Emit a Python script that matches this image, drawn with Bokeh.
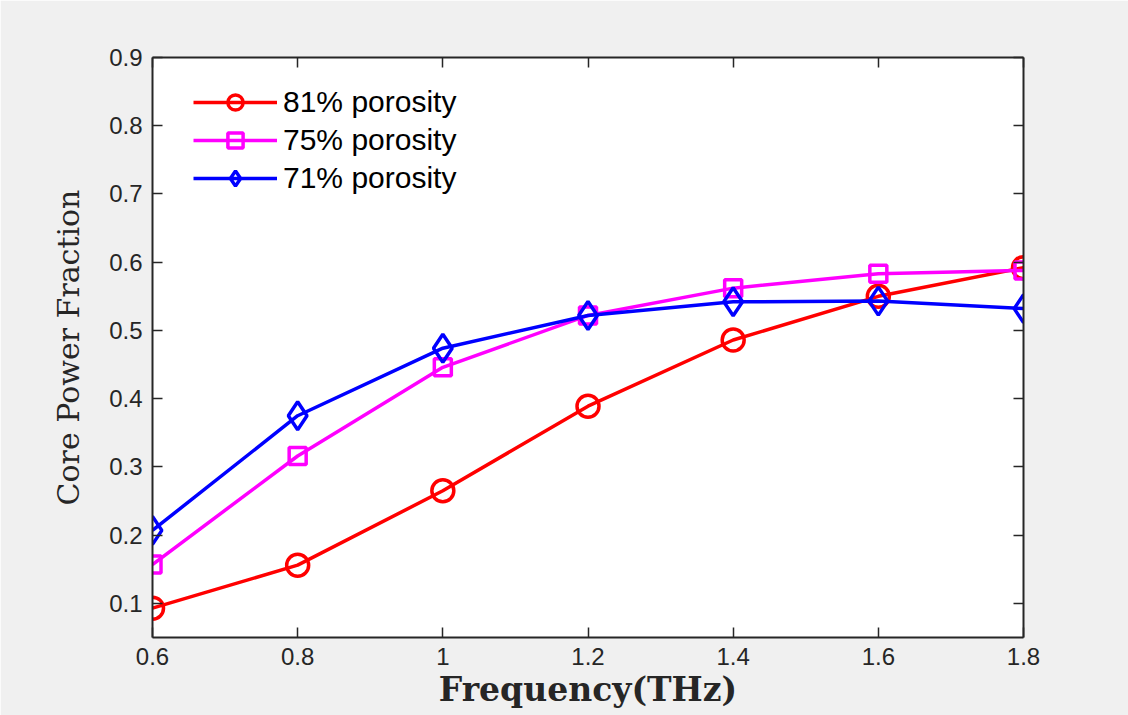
from bokeh.plotting import figure
from bokeh.models import Range1d, FixedTicker, LinearAxis, Legend, LegendItem, CustomJSTickFormatter
from bokeh.embed import file_html
from bokeh.resources import INLINE

freq = [0.6, 0.8, 1.0, 1.2, 1.4, 1.6, 1.8]
p81 = [0.093, 0.156, 0.265, 0.389, 0.486, 0.550, 0.592]
p75 = [0.157, 0.316, 0.446, 0.522, 0.562, 0.583, 0.588]
p71 = [0.207, 0.375, 0.474, 0.522, 0.542, 0.543, 0.532]
x_ticks = [0.6, 0.8, 1.0, 1.2, 1.4, 1.6, 1.8]
x_tick_labels = ["0.6", "0.8", "1", "1.2", "1.4", "1.6", "1.8"]
y_ticks = [0.1, 0.2, 0.3, 0.4, 0.5, 0.6, 0.7, 0.8, 0.9]
y_tick_labels = ["0.1", "0.2", "0.3", "0.4", "0.5", "0.6", "0.7", "0.8", "0.9"]
labels = ["81% porosity", "75% porosity", "71% porosity"]

AX = "#262626"
p = figure(width=1128, height=715, output_backend="svg", toolbar_location=None,
           x_range=Range1d(0.6, 1.8), y_range=Range1d(0.05, 0.9),
           min_border_left=152, min_border_right=105, min_border_top=57, min_border_bottom=78,
           background_fill_color="white", border_fill_color="#f0f0f0",
           outline_line_color=None)
p.xgrid.visible = False
p.ygrid.visible = False

def style_axis(ax):
    ax.axis_line_color = AX
    ax.axis_line_width = 2
    ax.major_tick_line_color = AX
    ax.major_tick_line_width = 1.5
    ax.major_tick_in = 10
    ax.major_tick_out = 0
    ax.minor_tick_line_color = None
    ax.major_label_text_font = "Liberation Sans"
    ax.major_label_text_font_size = "24px"
    ax.major_label_text_color = AX
    ax.major_label_standoff = 10

xa = p.xaxis[0]
ya = p.yaxis[0]
xa.ticker = FixedTicker(ticks=x_ticks)
ya.ticker = FixedTicker(ticks=y_ticks)
xa.major_label_overrides = {t: l for t, l in zip(x_ticks, x_tick_labels)}
ya.major_label_overrides = {t: l for t, l in zip(y_ticks, y_tick_labels)}
style_axis(xa)
style_axis(ya)
xa.axis_label = "Frequency(THz)"
ya.axis_label = "Core Power Fraction"
for ax, bold, sz in ((xa, "bold", "33px"), (ya, "normal", "30px")):
    ax.axis_label_text_font = "DejaVu Serif"
    ax.axis_label_text_font_size = sz
    ax.axis_label_text_font_style = bold
    ax.axis_label_text_color = AX
xa.axis_label_standoff = 2
ya.axis_label_standoff = 20

blank = CustomJSTickFormatter(code="return ''")
top = LinearAxis(ticker=FixedTicker(ticks=x_ticks), formatter=blank)
right = LinearAxis(ticker=FixedTicker(ticks=y_ticks), formatter=blank)
style_axis(top)
style_axis(right)
p.add_layout(top, "above")
p.add_layout(right, "right")

items = []
l1 = p.line(freq, p81, line_color="red", line_width=3.5)
m1 = p.scatter(freq, p81, marker="circle", size=22, fill_color=None, line_color="red", line_width=3.5)
items.append(LegendItem(label=labels[0], renderers=[l1, m1]))
l2 = p.line(freq, p75, line_color="magenta", line_width=3.5)
m2 = p.scatter(freq, p75, marker="square", size=17, fill_color=None, line_color="magenta", line_width=3.5)
items.append(LegendItem(label=labels[1], renderers=[l2, m2]))
l3 = p.line(freq, p71, line_color="blue", line_width=3.5)
m3 = p.scatter(freq, p71, marker="diamond", size=28, fill_color=None, line_color="blue", line_width=3.5)
items.append(LegendItem(label=labels[2], renderers=[l3, m3]))

legend = Legend(items=items, location=(41, 440), border_line_color=None,
                background_fill_alpha=0, label_text_font="Liberation Sans",
                label_text_font_size="30px", label_text_color="black",
                glyph_width=84, glyph_height=38, spacing=0, padding=0,
                margin=0, label_standoff=6)
p.add_layout(legend)

open("out.html", "w").write(file_html(p, INLINE))
